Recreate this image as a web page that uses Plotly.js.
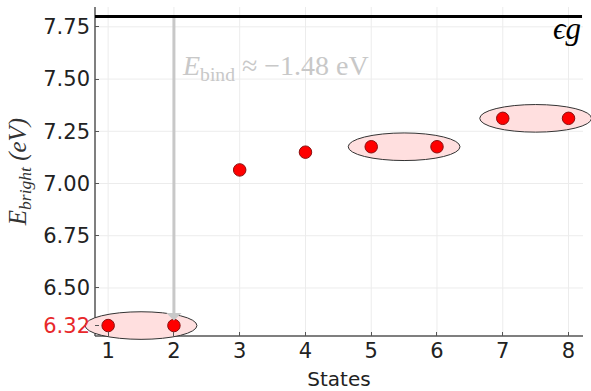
<!DOCTYPE html>
<html><head><meta charset="utf-8">
<script src="https://cdn.plot.ly/plotly-3.0.1.min.js"></script>
<style>html,body{margin:0;padding:0;background:#fff}</style>
</head><body><div id="chart" style="width:591px;height:391px"></div>
<script>
// ---- data ----
const states = [1, 2, 3, 4, 5, 6, 7, 8];
const energies = [6.32, 6.32, 7.065, 7.15, 7.176, 7.176, 7.312, 7.312];
const gapEnergy = 7.80;
const pairs = [[1, 2], [5, 6], [7, 8]];
const yTickVals = [6.32, 6.50, 6.75, 7.00, 7.25, 7.50, 7.75];
const yTickText = ['<span style="color:#e8282b">6.32</span>', '6.50', '6.75', '7.00', '7.25', '7.50', '7.75'];
const yGridVals = [6.50, 6.75, 7.00, 7.25, 7.50, 7.75];
const xTickVals = [1, 2, 3, 4, 5, 6, 7, 8];
const bindLabel = '<i>E</i><sub>bind</sub> ≈ −1.48 eV';
const gapLabel = 'ϵg';

// ---- geometry helpers ----
const W = 591, H = 391, M = {l: 95, r: 8, t: 7, b: 55, pad: 0};
const xr = [0.8, 8.22], yr = [6.27, 7.845];
const pw = W - M.l - M.r, ph = H - M.t - M.b;
const px = x => (x - xr[0]) / (xr[1] - xr[0]);
const py = y => (y - yr[0]) / (yr[1] - yr[0]);

const shapes = [];
// grid lines
xTickVals.forEach(v => shapes.push({type: 'line', layer: 'below', xref: 'x', yref: 'paper', x0: v, x1: v, y0: 0, y1: 1,
  line: {color: '#ececec', width: 1}}));
yGridVals.forEach(v => shapes.push({type: 'line', layer: 'below', xref: 'paper', yref: 'y', x0: 0, x1: 1, y0: v, y1: v,
  line: {color: '#ececec', width: 1}}));
// axis lines
shapes.push({type: 'line', layer: 'below', xref: 'paper', yref: 'paper', x0: 0, x1: 0, y0: 0, y1: 1, line: {color: '#555', width: 1.5}});
shapes.push({type: 'line', layer: 'below', xref: 'paper', yref: 'paper', x0: 0, x1: 1, y0: 0, y1: 0, line: {color: '#555', width: 1.5}});
// gap line
shapes.push({type: 'line', layer: 'below', xref: 'paper', yref: 'y', x0: 0, x1: 0.998, y0: gapEnergy, y1: gapEnergy, line: {color: '#000', width: 3}});
// degenerate-pair ellipses
const halfW = 0.85, halfHpx = 13.8;
pairs.forEach(p => {
  const i = states.indexOf(p[0]), j = states.indexOf(p[1]);
  const cx = (states[i] + states[j]) / 2, cy = (energies[i] + energies[j]) / 2;
  shapes.push({type: 'circle', layer: 'below', xref: 'paper', yref: 'paper',
    x0: px(cx - halfW), x1: px(cx + halfW), y0: py(cy) - halfHpx / ph, y1: py(cy) + halfHpx / ph,
    fillcolor: '#ffdfdf', line: {color: '#333', width: 1}});
});

const trace = {
  x: states, y: energies, type: 'scatter', mode: 'markers', cliponaxis: false,
  marker: {color: '#ff0000', size: 12.5, line: {color: '#8a1010', width: 1}},
  hoverinfo: 'skip'
};

const layout = {
  width: W, height: H, margin: M, showlegend: false,
  paper_bgcolor: '#fff', plot_bgcolor: 'rgba(0,0,0,0)',
  font: {family: 'DejaVu Sans', color: '#222'},
  xaxis: {range: xr, tickvals: xTickVals, showgrid: false, zeroline: false, showline: false,
    ticks: 'inside', ticklen: 4, tickcolor: '#555', tickwidth: 1,
    tickfont: {family: 'DejaVu Sans', size: 21, color: '#222'},
    title: {text: 'States', font: {family: 'DejaVu Sans', size: 20, color: '#222'}, standoff: 12}},
  yaxis: {range: yr, tickvals: yTickVals, ticktext: yTickText, showgrid: false, zeroline: false, showline: false,
    ticks: 'inside', ticklen: 4, tickcolor: '#555', tickwidth: 1, ticklabelstandoff: 4,
    tickfont: {family: 'DejaVu Sans', size: 21, color: '#222'},
    title: {text: 'E<sub>bright</sub> (eV)', font: {family: 'Liberation Serif', size: 25, color: '#333', style: 'italic'}, standoff: 9}},
  shapes: shapes,
  annotations: [
    {x: states[1], y: energies[1], xref: 'x', yref: 'y', ax: states[1], ay: gapEnergy, axref: 'x', ayref: 'y',
     text: '', showarrow: true, arrowhead: 1, arrowsize: 0.85, arrowwidth: 3, arrowcolor: '#c8c8c8', standoff: 5},
    {x: 0.174, y: 0.815, xref: 'paper', yref: 'paper', xanchor: 'left', yanchor: 'middle', showarrow: false,
     text: bindLabel, font: {family: 'Liberation Serif', size: 28, color: '#c8c8c8'}},
    {x: 1.0, y: 0.935, xref: 'paper', yref: 'paper', xanchor: 'right', yanchor: 'middle', showarrow: false,
     text: gapLabel, font: {family: 'Liberation Serif', size: 31, color: '#000', style: 'italic'}}
  ]
};

Plotly.newPlot('chart', [trace], layout, {displayModeBar: false, staticPlot: true});
</script></body></html>
